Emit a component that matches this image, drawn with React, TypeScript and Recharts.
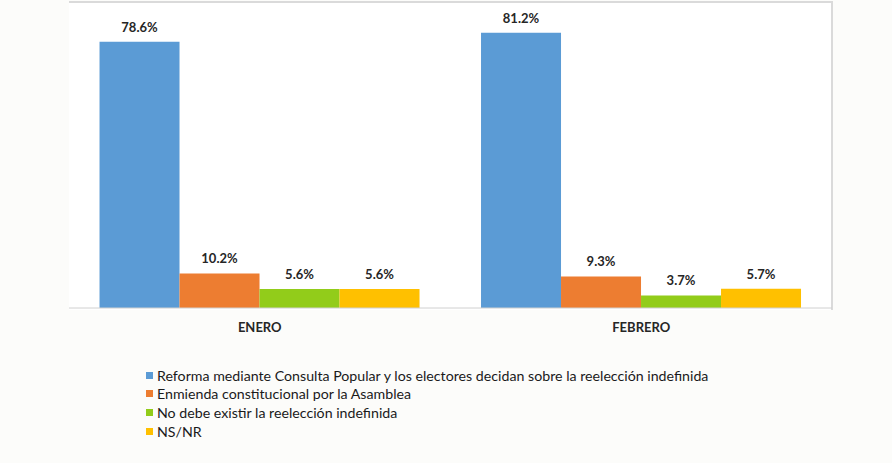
import React from "react";
import { BarChart, Bar, XAxis, YAxis, LabelList, Legend } from "recharts";

const categories = ["ENERO", "FEBRERO"];
const reforma = [78.6, 81.2];
const enmienda = [10.2, 9.3];
const noDebe = [5.6, 3.7];
const nsnr = [5.6, 5.7];

const seriesNames = [
  "Reforma mediante Consulta Popular y los electores decidan sobre la reelección indefinida",
  "Enmienda constitucional por la Asamblea",
  "No debe existir la reelección indefinida",
  "NS/NR",
];
const seriesKeys = ["reforma", "enmienda", "noDebe", "nsnr"];
const seriesColors = ["#5B9BD5", "#ED7D31", "#92CC1A", "#FFC000"];

const data = categories.map((c, i) => ({
  name: c,
  reforma: reforma[i],
  enmienda: enmienda[i],
  noDebe: noDebe[i],
  nsnr: nsnr[i],
}));

const FONT = "Lato, 'Open Sans', sans-serif";

function LegendBox({ payload }: any) {
  // keep the series order, recharts sorts legend items by name otherwise
  const items = [...(payload || [])].sort(
    (a: any, b: any) => seriesNames.indexOf(a.value) - seriesNames.indexOf(b.value)
  );
  return (
    <div style={{ fontFamily: FONT, fontSize: 14.2, color: "#1a1a1a" }}>
      {items.map((p: any) => (
        <div
          key={p.value}
          style={{ display: "flex", alignItems: "center", height: 18.6, whiteSpace: "nowrap" }}
        >
          <span
            style={{
              display: "inline-block",
              width: 7,
              height: 7,
              background: p.color,
              marginRight: 4,
            }}
          />
          {p.value}
        </div>
      ))}
    </div>
  );
}

export default function App() {
  return (
    <div
      style={{
        position: "absolute",
        left: 0,
        top: 0,
        width: 892,
        height: 463,
        background: "#fcfcfa",
      }}
    >
      {/* white plot frame with grey top / right edge */}
      <div
        style={{
          position: "absolute",
          left: 69,
          top: 1,
          width: 762,
          height: 307,
          background: "#ffffff",
          borderTop: "2px solid #dadada",
          borderRight: "2px solid #dadada",
        }}
      />
      <div style={{ position: "absolute", left: 0, top: 0 }}>
        <BarChart
          width={892}
          height={463}
          data={data}
          margin={{ top: 3, right: 60, left: 69, bottom: 125 }}
          barCategoryGap="8%"
          barGap={0}
        >
          <XAxis
            dataKey="name"
            height={30}
            tickLine={false}
            tickSize={6}
            tickMargin={9}
            axisLine={{ stroke: "#d0d0d0" }}
            tick={{ fontFamily: FONT, fontSize: 13, fontWeight: 700, fill: "#262626" }}
          />
          <YAxis hide domain={[0, 90]} />
          <Legend
            layout="vertical"
            align="center"
            verticalAlign="middle"
            content={<LegendBox />}
            wrapperStyle={{ left: 146, top: 366, width: 700 }}
          />
          {seriesKeys.map((k, i) => (
            <Bar
              key={k}
              dataKey={k}
              name={seriesNames[i]}
              fill={seriesColors[i]}
              isAnimationActive={false}
            >
              <LabelList
                dataKey={k}
                position="top"
                offset={10}
                formatter={(v: any) => `${Number(v).toFixed(1)}%`}
                style={{ fontFamily: FONT, fontSize: 13, fontWeight: 700, fill: "#262626" }}
              />
            </Bar>
          ))}
        </BarChart>
      </div>
    </div>
  );
}
